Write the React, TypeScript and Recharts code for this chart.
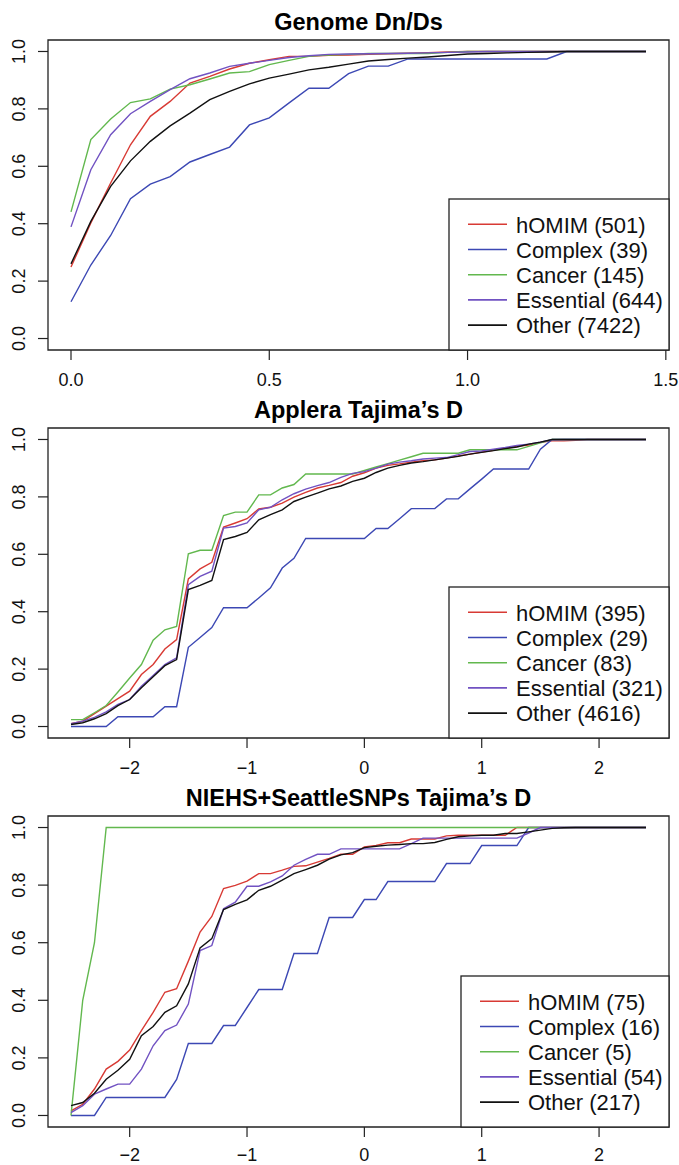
import { LineChart, Line, XAxis, YAxis, ReferenceArea } from 'recharts'

const FONT = '"Liberation Sans", Arial, Helvetica, sans-serif'
const INK = '#222'

const GROUPS = ['hOMIM', 'Complex', 'Cancer', 'Essential', 'Other']
const COLORS = ['#D83A34', '#3C48B4', '#62B84E', '#7152C2', '#111111']

const yTicks = [0, 0.2, 0.4, 0.6, 0.8, 1]

// Genome Dn/Ds
const dndsX = [0, 0.05, 0.1, 0.15, 0.2, 0.25, 0.3, 0.35, 0.4, 0.45, 0.5, 0.55, 0.6, 0.65, 0.7, 0.75, 0.8, 0.85, 0.9, 0.95, 1.0, 1.05, 1.1, 1.15, 1.2, 1.25, 1.3, 1.35, 1.4, 1.45]
const dndsTicks = [0, 0.5, 1, 1.5]
const dndsCounts = [501, 39, 145, 644, 7422]
const dndsHomim = [0.249, 0.403, 0.542, 0.675, 0.774, 0.826, 0.89, 0.913, 0.939, 0.959, 0.971, 0.983, 0.983, 0.987, 0.988, 0.99, 0.992, 0.994, 0.996, 0.998, 1, 1, 1, 1, 1, 1, 1, 1, 1, 1]
const dndsComplex = [0.128, 0.256, 0.359, 0.487, 0.538, 0.564, 0.615, 0.641, 0.667, 0.744, 0.769, 0.821, 0.872, 0.872, 0.923, 0.949, 0.949, 0.974, 0.974, 0.974, 0.974, 0.974, 0.974, 0.974, 0.974, 1, 1, 1, 1, 1]
const dndsCancer = [0.441, 0.693, 0.765, 0.822, 0.835, 0.869, 0.884, 0.904, 0.925, 0.93, 0.954, 0.969, 0.983, 0.988, 0.99, 0.993, 0.993, 0.993, 0.993, 0.997, 1, 1, 1, 1, 1, 1, 1, 1, 1, 1]
const dndsEssential = [0.389, 0.588, 0.71, 0.783, 0.826, 0.867, 0.905, 0.925, 0.948, 0.959, 0.969, 0.979, 0.985, 0.99, 0.991, 0.992, 0.993, 0.994, 0.995, 0.997, 0.998, 1, 1, 1, 1, 1, 1, 1, 1, 1]
const dndsOther = [0.26, 0.408, 0.53, 0.619, 0.687, 0.741, 0.785, 0.832, 0.861, 0.887, 0.907, 0.921, 0.936, 0.945, 0.956, 0.967, 0.972, 0.977, 0.981, 0.986, 0.991, 0.993, 0.995, 0.997, 0.998, 1, 1, 1, 1, 1]

// Tajima's D grid, shared by the two lower panels
const tajimaX = [
  -2.5, -2.4, -2.3, -2.2, -2.1, -2.0, -1.9, -1.8, -1.7, -1.6,
  -1.5, -1.4, -1.3, -1.2, -1.1, -1.0, -0.9, -0.8, -0.7, -0.6,
  -0.5, -0.4, -0.3, -0.2, -0.1, 0, 0.1, 0.2, 0.3, 0.4,
  0.5, 0.6, 0.7, 0.8, 0.9, 1.0, 1.1, 1.2, 1.3, 1.4,
  1.5, 1.6, 1.7, 1.8, 1.9, 2.0, 2.1, 2.2, 2.3, 2.4,
]
const tajimaTicks = [-2, -1, 0, 1, 2]

// Applera Tajima's D
const appleraCounts = [395, 29, 83, 321, 4616]
const appleraHomim = [
  0.01, 0.019, 0.045, 0.071, 0.097, 0.123, 0.181, 0.216, 0.27, 0.303,
  0.514, 0.549, 0.572, 0.695, 0.709, 0.724, 0.758, 0.764, 0.778, 0.799,
  0.816, 0.831, 0.84, 0.85, 0.872, 0.884, 0.9, 0.91, 0.915, 0.921,
  0.926, 0.929, 0.935, 0.943, 0.949, 0.956, 0.962, 0.97, 0.976, 0.981,
  0.99, 0.995, 0.995, 0.997, 1, 1, 1, 1, 1, 1,
]
const appleraComplex = [
  0, 0, 0, 0, 0.034, 0.034, 0.034, 0.034, 0.069, 0.069,
  0.276, 0.31, 0.345, 0.414, 0.414, 0.414, 0.448, 0.483, 0.552, 0.586,
  0.655, 0.655, 0.655, 0.655, 0.655, 0.655, 0.69, 0.69, 0.724, 0.759,
  0.759, 0.759, 0.793, 0.793, 0.828, 0.862, 0.897, 0.897, 0.897, 0.897,
  0.966, 1, 1, 1, 1, 1, 1, 1, 1, 1,
]
const appleraCancer = [
  0.024, 0.024, 0.048, 0.073, 0.12, 0.169, 0.216, 0.301, 0.337, 0.349,
  0.602, 0.614, 0.614, 0.735, 0.747, 0.747, 0.807, 0.807, 0.831, 0.843,
  0.88, 0.88, 0.88, 0.88, 0.88, 0.892, 0.904, 0.916, 0.928, 0.94,
  0.952, 0.952, 0.952, 0.952, 0.964, 0.964, 0.964, 0.964, 0.964, 0.976,
  0.988, 1, 1, 1, 1, 1, 1, 1, 1, 1,
]
const appleraEssential = [
  0.01, 0.019, 0.032, 0.051, 0.077, 0.094, 0.14, 0.178, 0.216, 0.239,
  0.494, 0.523, 0.541, 0.691, 0.697, 0.709, 0.755, 0.764, 0.79, 0.811,
  0.827, 0.839, 0.85, 0.868, 0.882, 0.888, 0.9, 0.914, 0.921, 0.926,
  0.932, 0.935, 0.937, 0.947, 0.958, 0.96, 0.966, 0.972, 0.979, 0.984,
  0.991, 0.999, 1, 1, 1, 1, 1, 1, 1, 1,
]
const appleraOther = [
  0.007, 0.013, 0.027, 0.045, 0.073, 0.094, 0.135, 0.173, 0.212, 0.233,
  0.477, 0.492, 0.509, 0.651, 0.662, 0.676, 0.72, 0.738, 0.755, 0.784,
  0.799, 0.813, 0.828, 0.838, 0.854, 0.865, 0.885, 0.9, 0.91, 0.918,
  0.923, 0.929, 0.935, 0.941, 0.949, 0.955, 0.961, 0.968, 0.974, 0.984,
  0.991, 1, 1, 1, 1, 1, 1, 1, 1, 1,
]

// NIEHS+SeattleSNPs Tajima's D
const niehsCounts = [75, 16, 5, 54, 217]
const niehsHomim = [
  0.016, 0.039, 0.092, 0.161, 0.188, 0.227, 0.295, 0.358, 0.428, 0.44,
  0.536, 0.637, 0.691, 0.788, 0.799, 0.814, 0.84, 0.84, 0.852, 0.865,
  0.867, 0.88, 0.893, 0.907, 0.907, 0.933, 0.938, 0.947, 0.947, 0.96,
  0.96, 0.96, 0.971, 0.973, 0.973, 0.973, 0.973, 0.973, 1, 1,
  1, 1, 1, 1, 1, 1, 1, 1, 1, 1,
]
const niehsComplex = [
  0, 0, 0, 0.0625, 0.0625, 0.0625, 0.0625, 0.0625, 0.0625, 0.125,
  0.25, 0.25, 0.25, 0.3125, 0.3125, 0.375, 0.4375, 0.4375, 0.4375, 0.5625,
  0.5625, 0.5625, 0.6875, 0.6875, 0.6875, 0.75, 0.75, 0.8125, 0.8125, 0.8125,
  0.8125, 0.8125, 0.875, 0.875, 0.875, 0.9375, 0.9375, 0.9375, 0.9375, 1,
  1, 1, 1, 1, 1, 1, 1, 1, 1, 1,
]
const niehsCancer = [
  0, 0.4, 0.6, 1, 1, 1, 1, 1, 1, 1,
  1, 1, 1, 1, 1, 1, 1, 1, 1, 1,
  1, 1, 1, 1, 1, 1, 1, 1, 1, 1,
  1, 1, 1, 1, 1, 1, 1, 1, 1, 1,
  1, 1, 1, 1, 1, 1, 1, 1, 1, 1,
]
const niehsEssential = [
  0.01, 0.034, 0.074, 0.092, 0.109, 0.109, 0.161, 0.242, 0.295, 0.314,
  0.387, 0.573, 0.59, 0.718, 0.741, 0.796, 0.796, 0.811, 0.832, 0.869,
  0.889, 0.907, 0.907, 0.926, 0.926, 0.926, 0.926, 0.926, 0.926, 0.944,
  0.963, 0.963, 0.963, 0.963, 0.963, 0.963, 0.963, 0.963, 0.963, 0.981,
  1, 1, 1, 1, 1, 1, 1, 1, 1, 1,
]
const niehsOther = [
  0.034, 0.045, 0.077, 0.126, 0.157, 0.195, 0.277, 0.309, 0.358, 0.381,
  0.457, 0.582, 0.614, 0.715, 0.733, 0.749, 0.782, 0.796, 0.817, 0.84,
  0.854, 0.869, 0.89, 0.905, 0.913, 0.93, 0.935, 0.939, 0.941, 0.944,
  0.944, 0.948, 0.959, 0.968, 0.971, 0.973, 0.973, 0.979, 0.979, 0.985,
  0.991, 0.997, 0.999, 1, 1, 1, 1, 1, 1, 1,
]

const W = 679
const Y_DOMAIN: [number, number] = [-0.04, 1.04]
const MARGIN_TOP = 40

// R-style pad: 4% of data range on each side
function padded(xs: number[]): [number, number] {
  const lo = xs[0]
  const hi = xs[xs.length - 1]
  const pad = (hi - lo) * 0.04
  return [lo - pad, hi + pad]
}

const fmtDec = (v: number) => v.toFixed(1)
const fmtInt = (v: number) => (v < 0 ? '\u2212' + Math.abs(v) : String(v))

interface PanelProps {
  title: string
  xs: number[]
  series: number[][]
  counts: number[]
  xTicks: number[]
  xFormat: (v: number) => string
  top: number
  height: number
  boxBottom: number
  labelGap: number
  legendWidth: number
}

function Panel({ title, xs, series, counts, xTicks, xFormat, top, height, boxBottom, labelGap, legendWidth }: PanelProps) {
  const rows = xs.map((x, i) => {
    const row: Record<string, number> = { x }
    GROUPS.forEach((g, j) => {
      row[g] = series[j][i]
    })
    return row
  })
  const xDomain = padded(xs)
  const plotRight = W - 10
  const legTop = boxBottom - 151
  const legLeft = plotRight - legendWidth

  return (
    <div style={{ position: 'absolute', left: 0, top, width: W, height }}>
      <LineChart
        width={W}
        height={height}
        data={rows}
        margin={{ top: MARGIN_TOP, right: 10, bottom: 0, left: 0 }}
        style={{ overflow: 'visible' }}
      >
        <XAxis
          type="number"
          dataKey="x"
          domain={xDomain}
          ticks={xTicks}
          height={height - boxBottom}
          axisLine={false}
          tickSize={10}
          tickLine={{ stroke: INK, strokeWidth: 1.2 }}
          tick={(p: any) => (
            <text x={p.x} y={boxBottom + labelGap} textAnchor="middle" fontSize={18} fontFamily={FONT} fill="#111">
              {xFormat(p.payload.value)}
            </text>
          )}
        />
        <YAxis
          type="number"
          domain={Y_DOMAIN}
          ticks={yTicks}
          width={48}
          axisLine={false}
          tickSize={10}
          tickLine={{ stroke: INK, strokeWidth: 1.2 }}
          tick={(p: any) => (
            <text
              x={0}
              y={0}
              transform={`translate(18.5, ${p.y}) rotate(-90)`}
              dy="0.36em"
              textAnchor="middle"
              fontSize={18}
              fontFamily={FONT}
              fill="#111"
            >
              {fmtDec(p.payload.value)}
            </text>
          )}
        />
        <ReferenceArea
          x1={xDomain[0]}
          x2={xDomain[1]}
          y1={Y_DOMAIN[0]}
          y2={Y_DOMAIN[1]}
          fill="none"
          stroke={INK}
          strokeWidth={1.3}
          ifOverflow="visible"
        />
        {GROUPS.map((g, j) => (
          <Line
            key={g}
            type="linear"
            dataKey={g}
            stroke={COLORS[j]}
            strokeWidth={1.4}
            dot={false}
            isAnimationActive={false}
          />
        ))}
      </LineChart>

      {/* title + legend drawn over the chart */}
      <svg width={W} height={height} style={{ position: 'absolute', left: 0, top: 0, pointerEvents: 'none' }}>
        <text x={(48 + plotRight) / 2} y={MARGIN_TOP - 10.5} textAnchor="middle" fontSize={23.5} fontWeight="bold" fontFamily={FONT} fill="#000">
          {title}
        </text>
        <rect x={legLeft} y={legTop} width={legendWidth} height={151} fill="#fff" stroke={INK} strokeWidth={1.3} />
        {GROUPS.map((g, j) => {
          const ly = legTop + 25.3 + j * 25.2
          return (
            <g key={g}>
              <line x1={legLeft + 19} x2={legLeft + 58} y1={ly} y2={ly} stroke={COLORS[j]} strokeWidth={1.6} />
              <text x={legLeft + 67} y={ly + 8.3} fontSize={22} fontFamily={FONT} fill="#111">
                {`${g} (${counts[j]})`}
              </text>
            </g>
          )
        })}
      </svg>
    </div>
  )
}

export default function App() {
  return (
    <div style={{ position: 'absolute', left: 0, top: 0, width: W, height: 1165, overflow: 'hidden', background: '#fff' }}>
      <Panel
        title="Genome Dn/Ds"
        xs={dndsX}
        series={[dndsHomim, dndsComplex, dndsCancer, dndsEssential, dndsOther]}
        counts={dndsCounts}
        xTicks={dndsTicks}
        xFormat={fmtDec}
        top={0}
        height={396}
        boxBottom={350}
        labelGap={36}
        legendWidth={220}
      />
      <Panel
        title="Applera Tajima’s D"
        xs={tajimaX}
        series={[appleraHomim, appleraComplex, appleraCancer, appleraEssential, appleraOther]}
        counts={appleraCounts}
        xTicks={tajimaTicks}
        xFormat={fmtInt}
        top={388}
        height={396}
        boxBottom={350}
        labelGap={36}
        legendWidth={220}
      />
      <Panel
        title="NIEHS+SeattleSNPs Tajima’s D"
        xs={tajimaX}
        series={[niehsHomim, niehsComplex, niehsCancer, niehsEssential, niehsOther]}
        counts={niehsCounts}
        xTicks={tajimaTicks}
        xFormat={fmtInt}
        top={776}
        height={389}
        boxBottom={351}
        labelGap={34}
        legendWidth={208}
      />
    </div>
  )
}
